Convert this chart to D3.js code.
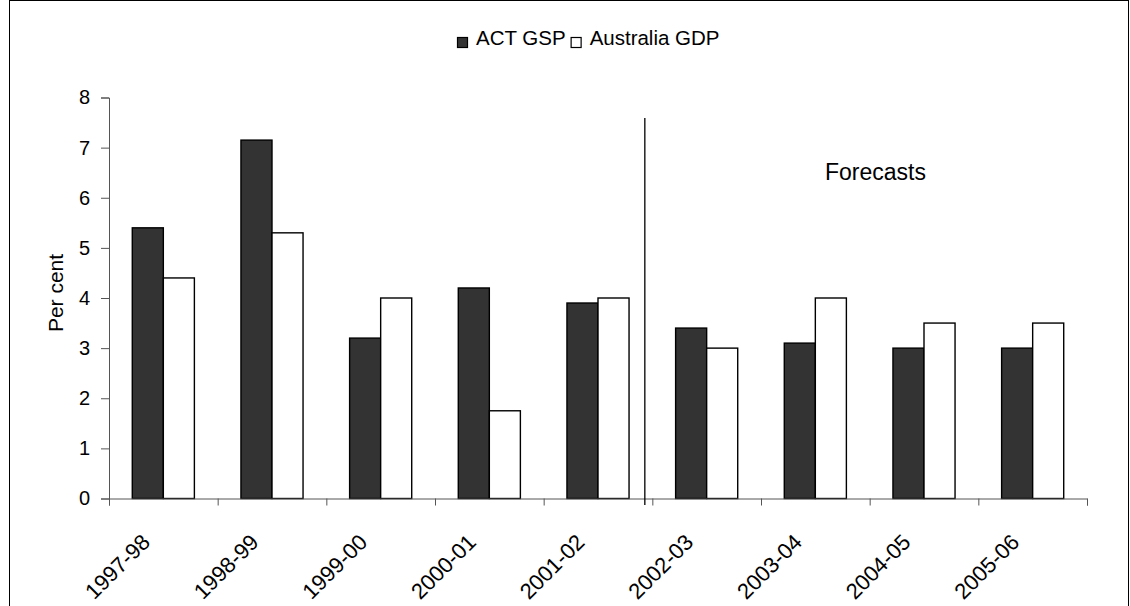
<!DOCTYPE html>
<html>
<head>
<meta charset="utf-8">
<script src="https://cdn.jsdelivr.net/npm/d3@7"></script>
<style>
  html, body { margin: 0; padding: 0; background: #fff; }
  svg { display: block; font-family: Arial, "Liberation Sans", sans-serif; }
</style>
</head>
<body>
<svg id="chart" width="1130" height="606"></svg>
<script>
// Financial years on the category axis
const years = ["1997-98", "1998-99", "1999-00", "2000-01", "2001-02",
               "2002-03", "2003-04", "2004-05", "2005-06"];
// Real growth, per cent
const actGsp = [5.4, 7.15, 3.2, 4.2, 3.9, 3.4, 3.1, 3.0, 3.0];
const ausGdp = [4.4, 5.3, 4.0, 1.75, 4.0, 3.0, 4.0, 3.5, 3.5];
const seriesNames = ["ACT GSP", "Australia GDP"];
const seriesFill = ["#333333", "#ffffff"];
const yTicks = [0, 1, 2, 3, 4, 5, 6, 7, 8];
const firstForecast = "2002-03";

const FONT = "Arial, 'Liberation Sans', sans-serif";
const svg = d3.select("#chart");

// Frame around the chart area
svg.append("rect")
  .attr("x", 9.5).attr("y", 0.5)
  .attr("width", 1119).attr("height", 700)
  .attr("fill", "none").attr("stroke", "#000").attr("stroke-width", 1);

const plot = { left: 109, right: 1087, top: 97.5, bottom: 498.5 };

const x = d3.scaleBand().domain(years).range([plot.left, plot.right]).padding(0);
const xs = d3.scaleBand().domain(seriesNames).range([0, x.bandwidth()])
  .paddingInner(0).paddingOuter(0.75);
const y = d3.scaleLinear().domain([0, 8]).range([plot.bottom, plot.top]);

// Bars
const rows = years.map((yr, i) => ({ yr, vals: [actGsp[i], ausGdp[i]] }));
const groups = svg.append("g").selectAll("g").data(rows).join("g")
  .attr("transform", d => `translate(${x(d.yr)},0)`);
groups.selectAll("rect")
  .data(d => d.vals.map((v, k) => ({ v, k })))
  .join("rect")
  .attr("x", d => xs(seriesNames[d.k]))
  .attr("y", d => y(d.v))
  .attr("width", xs.bandwidth())
  .attr("height", d => y(0) - y(d.v))
  .attr("fill", d => seriesFill[d.k])
  .attr("stroke", "#000")
  .attr("stroke-width", 1.4);

// Y axis
const yAxis = svg.append("g")
  .attr("transform", `translate(${plot.left},0)`)
  .call(d3.axisLeft(y).tickValues(yTicks).tickSize(8).tickPadding(11).tickFormat(d3.format("d")));
yAxis.select(".domain").attr("stroke", "#555");
yAxis.selectAll(".tick line").attr("stroke", "#555");
yAxis.selectAll(".tick text").attr("font-size", 20).attr("fill", "#000")
  .attr("font-family", FONT);

// X axis: boundary ticks between categories
const xIdx = d3.scaleLinear().domain([0, years.length]).range([plot.left, plot.right]);
const xAxis = svg.append("g")
  .attr("transform", `translate(0,${plot.bottom})`)
  .call(d3.axisBottom(xIdx).tickValues(d3.range(years.length + 1)).tickSize(7).tickFormat(""));
xAxis.select(".domain").attr("stroke", "#555");
xAxis.selectAll(".tick line").attr("stroke", "#555");

// X labels, rotated
const xLab = svg.append("g")
  .attr("transform", `translate(0,${plot.bottom})`)
  .call(d3.axisBottom(x).tickSize(0).tickPadding(0));
xLab.select(".domain").remove();
xLab.selectAll(".tick text")
  .attr("font-size", 22)
  .attr("fill", "#000")
  .attr("font-family", FONT)
  .attr("text-anchor", "end")
  .attr("dy", null)
  .attr("y", null)
  .attr("transform", "translate(-12,45) rotate(-45)");

// Y axis title
svg.append("text")
  .attr("transform", `translate(63,293) rotate(-90)`)
  .attr("text-anchor", "middle")
  .attr("font-size", 21)
  .text("Per cent");

// Divider before the forecast years
const divX = x(firstForecast) - 7.5;
svg.append("line")
  .attr("x1", divX).attr("x2", divX)
  .attr("y1", 118).attr("y2", 505)
  .attr("stroke", "#000").attr("stroke-width", 1.3);

svg.append("text")
  .attr("x", 825).attr("y", 180)
  .attr("font-size", 23)
  .text("Forecasts");

// Legend
const legend = svg.append("g").attr("transform", "translate(457,37)");
let lx = 0;
seriesNames.forEach((name, k) => {
  legend.append("rect")
    .attr("x", lx + 0.5).attr("y", 0.5)
    .attr("width", 10).attr("height", 10)
    .attr("fill", seriesFill[k]).attr("stroke", "#000").attr("stroke-width", 1.2);
  const t = legend.append("text")
    .attr("x", lx + 19).attr("y", 8)
    .attr("font-size", 20.5)
    .text(name);
  lx += 19 + t.node().getComputedTextLength() + 5;
});
</script>
</body>
</html>
